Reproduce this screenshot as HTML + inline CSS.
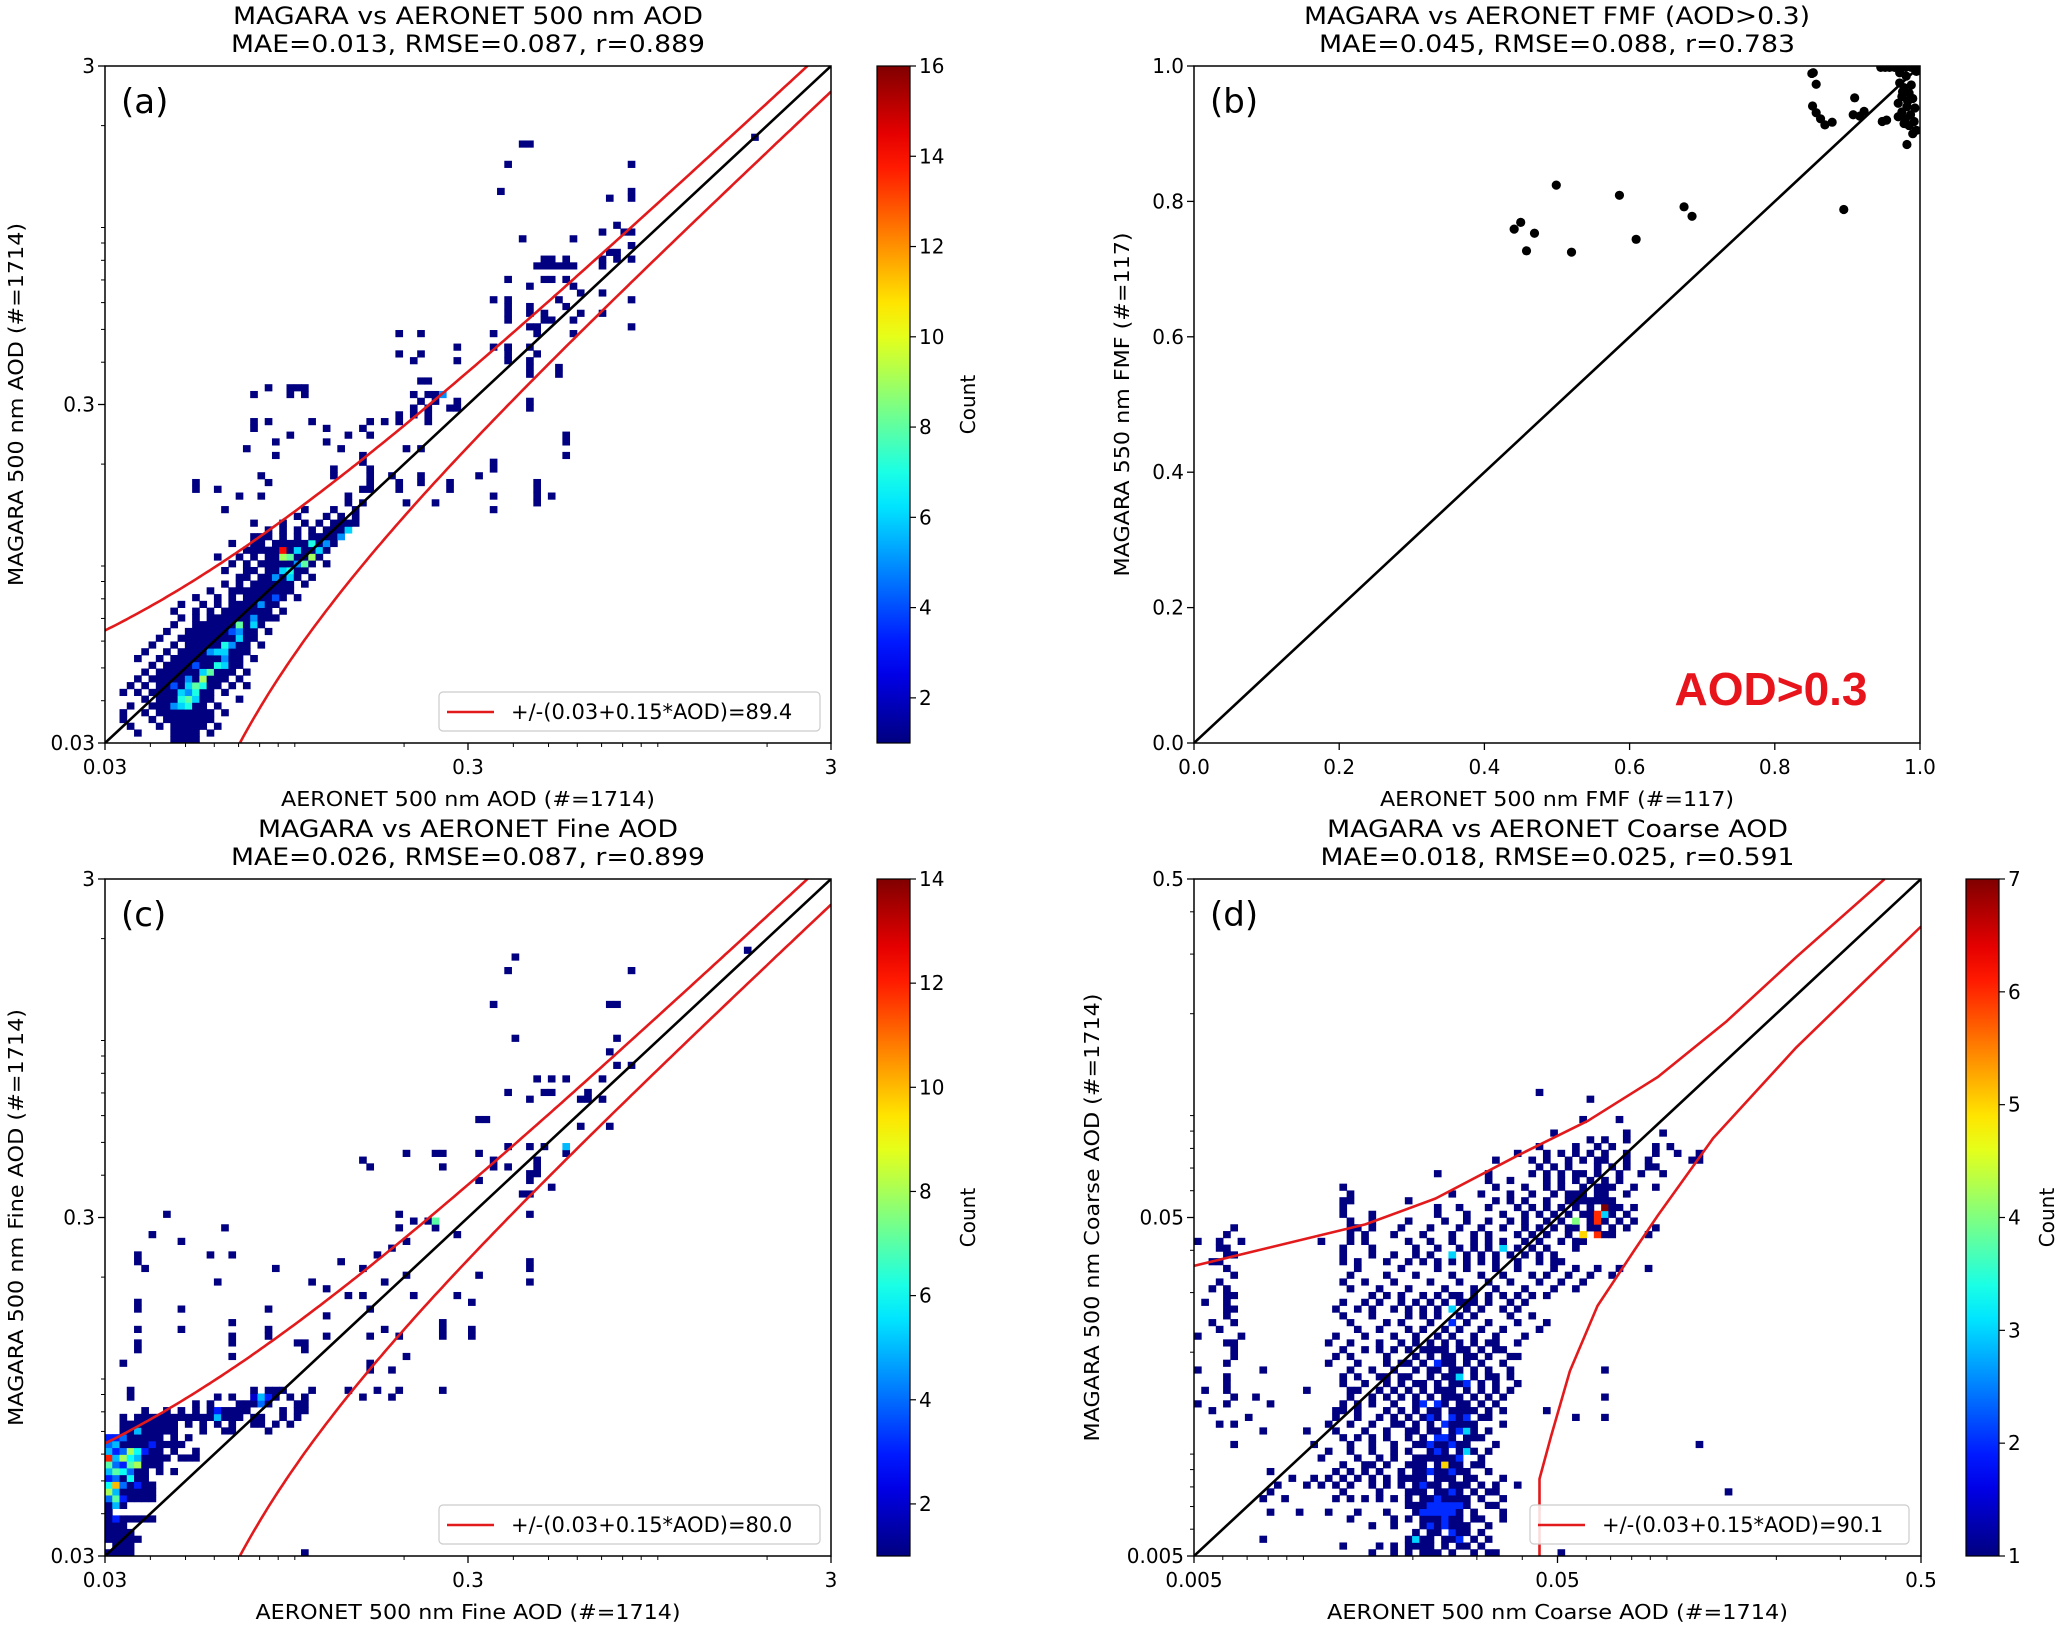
<!DOCTYPE html>
<html><head><meta charset="utf-8"><style>
html,body{margin:0;padding:0;background:#fff;width:2067px;height:1627px;overflow:hidden;}
svg{display:block;}
svg text{font-family:"DejaVu Sans","Liberation Sans",sans-serif;fill:#000;}
</style></head><body>
<svg id="fig" xmlns="http://www.w3.org/2000/svg" width="2067" height="1627" viewBox="0 0 2067 1627"></svg>
<script>
// ---------- DATA ----------
// Heatmap rows: index = y bin (0..99), tokens "xbin" or "xbin:count"
const rowsA = [
"9 10 11 12","4 9 10 11 12 14","3 7 9 10 11 12 13 15","2 6 8 9 10 11 12 13 14","2 5 7 8 9 10 11 12 13 14 16",
"3 6 7 8 9:5 10:6 11:7 12 13 15","5 7 8 9 10:7 11:8 12:6 13 14 18","2 4 6 7 8 9 10:6 11:5 12:7 13 14 16","3 5 7 8 9:4 10 11:6 12:8 13:7 14 15 17 19","4 6 7 8 9 10 11:5 12 13:9 14 15 16 18",
"5 7 8 9 10 11 12 13:6 14:8 15 16 17 19","6 8 9 10 11 12:4 13 14 15:7 16:6 17 18","4 7 9 10 11 12 13 14 15 16:5 17 18 20","5 8 10 11 12 13 14:5 15:6 16:6 17 18 19","6 9 11 12 13 14 15 16:7 17:5 18 19 21",
"7 10 11 12 13 14 15 16 17 18:6 19 20","8 11 12 13 14 15 16 17:4 18:5 19 20 22","9 12 13 14 15 16 17 18:8 19 20:6 21","10 12 14 15 16 17 18 19 20:5 21 22 23","9 12 14 16 17 18 19 20 21 22 24",
"10 13 15 17 18 19 20 21:5 22 23","12 15 17 19 20 21 22 23:4 24 26","14 17 18 19 20 21 22 23 24 25","16 18 20 21 22 23 24 25 27","18 19 21 22 23:5 24 25:6 26 28",
"16 19 20 22 23 24:6 25:7 26 27","17 19 21 22 23 24 25 26:5 27:8 28 30","15 18 20 22 23 24:9 25:8 26 27 28:9 29","19 20 21 22 23 24:14 25 26:6 27 28 29:6 30","17 20 21 23 24 25 26 27 28:7 29 30:5 31",
"20 21 22 24 26 28 29 30 31 32:5","22 24 26 28 30 31 32 33:6","20 24 27 29 31 32 33 34","26 30 32 34","16 27 31 34 53",
"41 45 59 33 35","18 21 33 53 59 61","12 15 35 36 40 47 59","12 22 36 40 43 47 59","21 31 36 39 43 51",
"31 53 36","53 35","35 63 23","19 32 43 41","63 30 23",
"25 33 36 63","20 30 35","36 40 20 22 28 38 44","40 42 44","44 58 42 48 47",
"48 58 43 45","20 25 27 42 44 45 46:5","22 25 26 27","43 44","58 62",
"58 62","42 48 55 58","40 43 55 59","53 55 58 48 55","",
"40 43 53 59 64","72 58 59","60 61 55 64","55 58 60 65 68","58 55 63",
"53 55 62 72","68 65","64 58","63 60 61 55","",
"59 60 61 62 63 64 68","60 61 63 68 70 72","69 70","72","57 64",
"72 71 68","70","",""," ",
"69 72","54 72","","","",
"55 72","","","57 58","89"
];
const rowsC = [
"0 1 2 3 27","1 2 3","0 1 2 3 4","0 1 2 3","0 1 2",
"0 1:3 2 3 4 5 6","0","0 1:5 2","0:4 1:7 2:3 3 4 5 6","0:8 1:5 2 3 4 5 6",
"0:6 1:10 2:4 3 4:3 5 6","0:3 1:4 2 3:6 4 5","0:5 1:7 2:6 3:4 4 5 7 9","0:7 1:4 2:3 3:7 4:8 5 6 7","0:12 1:5 2:8 3:6 4:5 5 6 7 8 10 11 12",
"0:5 1:3 2:4 3:8 4:6 5:3 6 7 9 12","0:4 1:5 2 3 4 5 6:3 7 8 9 10","0:3 1:3 2:4 3 4 5 6 7 9 11","2 3 4:5 5 6 7 8 9 13 16 17 22","2 3 4 5 6 7 8 9 11 13 15 17 20 21 23 25",
"2 4 5 6 7 8 9 10 11 12 13 14 15:5 16 17 18 20 21 24 26","5 8 10 12 14 15:3 16 17 18 19 24 26 27","12 14 18 19 20 21:4 22 26 27","3 15 17 20:2 21:5 22:3 23 25 27 35 39","3 20 22 23 24 28 33 37 40 46",
"","","36 39","2 36","17 41",
"4 27","4 26 27 17","17 22 30 40 36 46 50","4 10 22 38 50 46","17 46",
"30","4 10 22 36","4 50","33 35 42 48","30",
"15 38 58 28","51 41","5 23 35 58","4 32 58","14 17 37 4",
"39","10 41","6 48","16 45 40","44 45:7 42",
"58 40 8","","","57 58","61",
"51 58","58 59","53 55 59 46 36","35 53 59","63 45 41 46 51",
"55 58 60 63:5","","","69 65","52 51",
"","","68 65 58 66","66 60 61 55","",
"59 63 61 68","","70 72","","69",
"","70 56","","","",
"","69 53 70","","","",
"","55 72","","56 ","88"
];
const rowsD = [
"24 27 29 31 32 33 35 38 40 41 50","20 25 27 29 30 31 32 34 36 37 39","9 29 30:3 31 32 34 35 36:2 38 40","30 32 33 35:2 36 37 39","24 27 31 32:2 33 34:2 35 36 37 40",
"21 27 29 31 32 33 34:2 35 36 38 39 42","10 14 18 22 26 30 31:2 32:2 33:2 34:2 35:2 36 38 42","29 30 31 32:2 33:2 34:2 35:2 36:2 37 40 41","9 12 19 21 23 25 27 29 31 32 33:2 34 35 36 37 39 42","10 20 25 29 30 31 33 34 35:2 36 38 40 41 73",
"11 15 17 19 21 24 26 28 30 31:2 32 33 35 36 37 39 41 44","13 16 18 20 22 24 26 28 29 30 31 33 34 35 37 38 42","10 19 21 23 25 28 30 31 32:2 33 34 35:2 36 37 40","20 23 24 26 29 30 31 33 34:5 35 36 38 39","17 22 25 27 30 31 32 33 34 35 36:2 39",
"18 21 24 27 29 32 33:2 34 36 37:3 38 40","5 16 21 24 27 30 31 32:2 33 34 35:2 36 37 41 69","20 22 24 26 29 31 33:2 34:2 35 37 38 39","9 15 19 23 26 29 30 32 33 35 36:2 37:3 38 40","3 5 18 21 24 27 28 30 32 34:2 35 36 37 38 42",
"7 19 22 25 27 29 31 32:2 33 35:2 36 37:2 39 40 52 56","2 19 20 22 26 28 30 32 33 35 36 37 38 40 42 48","0 4 10 20 22 24 27 30 31:2 33:2 34 36 37 39 41","5 8 21 24 26 28 30 32 34 35 36 38 40 42 56","1 4 15 21 22 25 27 29 31 33 34 35 37 39 41 43",
"4 20 23 26 28 30 31 33 35 36 37:2 39 41 44","4 20 22 25 26 28 29 32 34 35 36:3 38 40 41 43","0 9 21 24 27 30 32 33 35 36 38 40 43 56","4 18 22 26 28 29 31 33:2 34 35 37 39 42","5 19 21 26 30 32 34 35 37 38 40 43 44",
"5 20 23 25 27 29 31 32 33 34 36 37 39 41 42","4 5 18 21 25 28 30 32 34 36 38 40 41 44","0 6 19 23 27 30 33 35 38 41 45","3 22 25 29 31 34 36 39 42 47","2 5 21 26 28 32 35:2 37 40 44 48",
"4 20 24 29 31 33 36 38 43 46","4 5 19 22 24 27 29 31 33 35:3 37 39 42 44","1 4 20 23 25 28 30 32 34 36 37 38 40 43 45","4 5 24 26 28 31 33 35 36 38 40 42 44 46 48","2 4 21 25 29 34 38 41 45 49 52",
"3 20 23 27 32 36 40 43 47 50 53","5 21 26 30 35 39 42 46 48 51 54 57","4 22 28 33 37 41 44 49 52 55 58 62",
"2 3 20 22 26 29 31 33 35 37 39 41 44 47 49 50","4 5 20 24 27 30 32 35:3 37 39 41 43 45 47 49","3 4 20 24 30 33 36 38 40 42:3 44 46 48 52","0 3 6 17 21 23 29 32 35 38 40 42 45 47 50 52 53","4 21 23 27 31 35 38 40 44 46 48 51 53:5 55:6 56 57 62",
"5 21 22 24 28 32 36 39 42 45 47 49 51 52 54 55 57 59 63","21 24 29 34 37 40 43 45 48 50 52:4 54 55:6 56 58 60","20 24 33 37 42 45 47 49 51 53 54 55:6 56:3 57 59","20 33 36 40 44 46 48 50 52 54 56:7 57 58 60","20 21 29 41 43 45 48 51 52 53 54 55 56 57",
"21 35 39 43 46 49 51 52 53 55 56 59","20 41 45 48 50 53 55 56 57 60 63","40 43 48 50 52 54 56 58","33 40 46 48 50 52 53 55 58 61 64","47 49 51 55 57 59 62 63",
"41 46 48 51 53 55 56 59 62 68 69","44 48 50 52 54 56 59 63 66 69","47 52 55 57 63 65","54 56 59","49 59 64",
"","53 58","","","54","47"
];
// Panel (b) FMF scatter
const fmfX = [0.441,0.450,0.458,0.469,0.499,0.520,0.586,0.609,0.675,0.686,0.895,0.851,0.853,0.857,0.852,0.857,0.863,0.869,0.879,0.910,0.908,0.923,0.917,0.948,0.954,
0.946,0.952,0.958,0.965,0.972,0.980,0.988,0.993,
0.972,0.978,0.985,0.975,0.990,0.970,0.982,0.993,0.975,0.987,0.980,0.992,0.985,0.995,0.990,0.978,0.970,0.983,0.976,0.988,0.981,0.972,0.982,0.995];
const fmfY = [0.759,0.769,0.727,0.753,0.824,0.725,0.809,0.744,0.792,0.778,0.788,0.989,0.990,0.973,0.941,0.931,0.922,0.913,0.917,0.953,0.928,0.933,0.926,0.918,0.920,
0.998,0.998,0.998,0.998,0.998,0.998,0.998,0.998,
0.975,0.968,0.960,0.955,0.952,0.945,0.940,0.938,0.932,0.928,0.922,0.918,0.912,0.905,0.900,0.915,0.925,0.948,0.962,0.972,0.985,0.990,0.884,0.992];
// Panel (d) envelope curves
const envUpX = [0.005,0.0148,0.0231,0.039,0.0607,0.0944,0.146,0.227,0.397];
const envUpY = [0.0360,0.0477,0.0569,0.0764,0.0966,0.130,0.190,0.294,0.5];
const envLoX = [0.0446,0.0446,0.048,0.0541,0.0644,0.0815,0.0944,0.134,0.227,0.5];
const envLoY = [0.005,0.00845,0.0113,0.0176,0.0274,0.0401,0.0507,0.0857,0.159,0.362];
const cbTicksA = [2,4,6,8,10,12,14,16];
const cbTicksC = [2,4,6,8,10,12,14];
const cbTicksD = [1,2,3,4,5,6,7];
const fmfTicks = [0.0,0.2,0.4,0.6,0.8,1.0];

// ---------- DRAW ----------
const NS="http://www.w3.org/2000/svg";
const svg=document.getElementById('fig');
function el(tag,attrs,parent){const e=document.createElementNS(NS,tag);for(const k in attrs)e.setAttribute(k,attrs[k]);(parent||svg).appendChild(e);return e;}
function txt(s,attrs,parent){const e=el('text',attrs,parent);e.textContent=s;return e;}
function jet(t){t=Math.max(0,Math.min(1,t));const c=v=>Math.round(255*Math.max(0,Math.min(1,v)));
return `rgb(${c(1.5-Math.abs(4*t-3))},${c(1.5-Math.abs(4*t-2))},${c(1.5-Math.abs(4*t-1))})`;}
const defs=el('defs',{});
const grad=el('linearGradient',{id:'jetg',x1:0,y1:1,x2:0,y2:0},defs);
for(let i=0;i<=20;i++){el('stop',{offset:i/20,'stop-color':jet(i/20)},grad);}

function logScale(lo,hi,p0,p1){return v=>p0+(p1-p0)*Math.log(v/lo)/Math.log(hi/lo);}

function panel(cfg){
  const g=el('g',{});
  
  
  const {L,T,W,H}=cfg;
  const xs=cfg.log?logScale(cfg.lo,cfg.hi,L,L+W):(v=>L+W*(v-cfg.lo)/(cfg.hi-cfg.lo));
  const ys=cfg.log?logScale(cfg.lo,cfg.hi,T+H,T):(v=>T+H-H*(v-cfg.lo)/(cfg.hi-cfg.lo));
  const t1=txt(cfg.title1,{x:L+W/2,y:T-42,'text-anchor':'middle','font-size':24,textLength:cfg.t1w,lengthAdjust:'spacingAndGlyphs'},g);
  
  const t2=txt(cfg.title2,{x:L+W/2,y:T-14,'text-anchor':'middle','font-size':24,textLength:cfg.t2w,lengthAdjust:'spacingAndGlyphs'},g);
  
  const cp=el('clipPath',{id:'clip'+cfg.id},defs);el('rect',{x:L,y:T,width:W,height:H},cp);
  const plot=el('g',{'clip-path':`url(#clip${cfg.id})`},g);
  
  if(cfg.rows){
    const r=cfg.hi/cfg.lo, bv=i=>cfg.lo*Math.pow(r,i/100);
    cfg.rows.forEach((row,yi)=>{
      row.trim().split(/\s+/).filter(s=>s).forEach(tok=>{
        const [xs_,cs]=tok.split(':');const xi=+xs_;const cnt=cs?+cs:1;
        const x0=xs(bv(xi)),x1=xs(bv(xi+1)),y0=ys(bv(yi+1)),y1=ys(bv(yi));
        const c=el('rect',{x:x0,y:y0,width:x1-x0+0.4,height:y1-y0+0.4,fill:jet((cnt-1)/(cfg.vmax-1))},plot);
        
        
      });
    });
  }
  if(cfg.points){
    cfg.points[0].forEach((vx,i)=>{
      const d=el('circle',{cx:xs(vx),cy:ys(cfg.points[1][i]),r:4.6,fill:'#000'},plot);
      
      
    });
  }
  const one=el('line',{x1:xs(cfg.lo),y1:ys(cfg.lo),x2:xs(cfg.hi),y2:ys(cfg.hi),stroke:'#000','stroke-width':2.6},plot);
  
  let envs=[];
  if(cfg.env==='formula'){
    const up=[],lo=[];
    for(let i=0;i<=200;i++){const x=cfg.lo*Math.pow(cfg.hi/cfg.lo,i/200);
      up.push([x,Math.min(cfg.hi*1.2,1.15*x+0.03)]);const l=0.85*x-0.03;if(l>0)lo.push([x,l]);}
    envs=[up,lo];
  } else if(cfg.env==='data'){
    envs=[envUpX.map((x,i)=>[x,envUpY[i]]),envLoX.map((x,i)=>[x,envLoY[i]])];
  }
  envs.forEach((pts,k)=>{
    const p=el('polyline',{points:pts.map(q=>xs(q[0]).toFixed(1)+','+ys(q[1]).toFixed(1)).join(' '),fill:'none',stroke:'#e31a1c','stroke-width':2.6,'stroke-linejoin':'round'},plot);
    
    
  });
  const fr=el('rect',{x:L,y:T,width:W,height:H,fill:'none',stroke:'#000','stroke-width':1.5},g);
  
  const tg=el('g',{},g);
  
  if(cfg.log){
    for(let e=-4;e<=1;e++)for(let n=1;n<=9;n++){const v=n*Math.pow(10,e);
      if(v<cfg.lo*0.999||v>cfg.hi*1.001)continue;
      el('line',{x1:xs(v),y1:T+H,x2:xs(v),y2:T+H+4,stroke:'#000','stroke-width':1},tg);
      el('line',{x1:L,y1:ys(v),x2:L-4,y2:ys(v),stroke:'#000','stroke-width':1},tg);}
  }
  cfg.major.forEach((v,i)=>{
    el('line',{x1:xs(v),y1:T+H,x2:xs(v),y2:T+H+7,stroke:'#000','stroke-width':1.3},tg);
    el('line',{x1:L,y1:ys(v),x2:L-7,y2:ys(v),stroke:'#000','stroke-width':1.3},tg);
    const a=txt(cfg.majorLab[i],{x:xs(v),y:T+H+31,'text-anchor':'middle','font-size':20},tg);
    
    const b=txt(cfg.majorLab[i],{x:L-10,y:ys(v)+7,'text-anchor':'end','font-size':20},tg);
    
  });
  const xl=txt(cfg.xlab,{x:L+W/2,y:T+H+63,'text-anchor':'middle','font-size':20,textLength:cfg.xw,lengthAdjust:'spacingAndGlyphs'},g);
  
  const yx=L-cfg.yoff, yc=T+H/2;
  const yl=txt(cfg.ylab,{x:yx,y:yc,transform:`rotate(-90 ${yx} ${yc})`,'text-anchor':'middle','dominant-baseline':'central','font-size':20,textLength:cfg.yw,lengthAdjust:'spacingAndGlyphs'},g);
  
  const pl=txt(cfg.letter,{x:L+16,y:T+47,'font-size':34},g);
  
  if(cfg.legend){
    const lg=el('g',{},g);
    
    const [lx,lw]=cfg.legendX;
    el('rect',{x:lx,y:T+H-51,width:lw,height:39,rx:4,fill:'rgba(255,255,255,0.85)',stroke:'#ccc','stroke-width':1.2},lg);
    el('line',{x1:lx+8,y1:T+H-31,x2:lx+55,y2:T+H-31,stroke:'#e31a1c','stroke-width':2.6},lg);
    const le=txt(cfg.legend,{x:lx+72,y:T+H-24,'font-size':21},lg);
    
  }
  if(cfg.cbX){
    const cb=el('g',{},g);
    
    el('rect',{x:cfg.cbX,y:T,width:33,height:H,fill:'url(#jetg)',stroke:'#000','stroke-width':1.2},cb);
    cfg.cbTicks.forEach(v=>{const y=T+H-H*(v-1)/(cfg.vmax-1);
      el('line',{x1:cfg.cbX+33,y1:y,x2:cfg.cbX+39,y2:y,stroke:'#000','stroke-width':1.2},cb);
      const t=txt(String(v),{x:cfg.cbX+42,y:y+7,'font-size':20},cb);
      });
    const cx=cfg.cbX+cfg.cbLabOff;
    const ct=txt('Count',{x:cx,y:yc,transform:`rotate(-90 ${cx} ${yc})`,'text-anchor':'middle','dominant-baseline':'central','font-size':20},cb);
    
  }
  return g;
}

panel({id:'a',name:'panel-a-aod',L:105,T:66,W:726,H:677,log:true,lo:0.03,hi:3,rows:rowsA,vmax:16,env:'formula',
 title1:'MAGARA vs AERONET 500 nm AOD',t1w:470,title2:'MAE=0.013, RMSE=0.087, r=0.889',t2w:474,
 major:[0.03,0.3,3],majorLab:['0.03','0.3','3'],xlab:'AERONET 500 nm AOD (#=1714)',xw:374,
 ylab:'MAGARA 500 nm AOD (#=1714)',yw:363,yoff:89,letter:'(a)',legend:'+/-(0.03+0.15*AOD)=89.4',legendX:[439,381],
 cbX:877,cbTicks:cbTicksA,cbLabOff:91});
panel({id:'b',name:'panel-b-fmf',L:1194,T:66,W:726,H:677,log:false,lo:0,hi:1,points:[fmfX,fmfY],
 title1:'MAGARA vs AERONET FMF (AOD>0.3)',t1w:506,title2:'MAE=0.045, RMSE=0.088, r=0.783',t2w:476,
 major:fmfTicks,majorLab:fmfTicks.map(v=>v.toFixed(1)),xlab:'AERONET 500 nm FMF (#=117)',xw:354,
 ylab:'MAGARA 550 nm FMF (#=117)',yw:344,yoff:72,letter:'(b)'});
const aod=txt('AOD>0.3',{x:1771,y:705,'text-anchor':'middle','font-size':46,'font-weight':'bold',style:'fill:#e8141c;font-family:"Liberation Sans",sans-serif'});

panel({id:'c',name:'panel-c-fine',L:105,T:879,W:726,H:677,log:true,lo:0.03,hi:3,rows:rowsC,vmax:14,env:'formula',
 title1:'MAGARA vs AERONET Fine AOD',t1w:420,title2:'MAE=0.026, RMSE=0.087, r=0.899',t2w:474,
 major:[0.03,0.3,3],majorLab:['0.03','0.3','3'],xlab:'AERONET 500 nm Fine AOD (#=1714)',xw:425,
 ylab:'MAGARA 500 nm Fine AOD (#=1714)',yw:417,yoff:89,letter:'(c)',legend:'+/-(0.03+0.15*AOD)=80.0',legendX:[439,381],
 cbX:877,cbTicks:cbTicksC,cbLabOff:91});
panel({id:'d',name:'panel-d-coarse',L:1194,T:879,W:727,H:677,log:true,lo:0.005,hi:0.5,rows:rowsD,vmax:7,env:'data',
 title1:'MAGARA vs AERONET Coarse AOD',t1w:461,title2:'MAE=0.018, RMSE=0.025, r=0.591',t2w:474,
 major:[0.005,0.05,0.5],majorLab:['0.005','0.05','0.5'],xlab:'AERONET 500 nm Coarse AOD (#=1714)',xw:461,
 ylab:'MAGARA 500 nm Coarse AOD (#=1714)',yw:448,yoff:102,letter:'(d)',legend:'+/-(0.03+0.15*AOD)=90.1',legendX:[1530,379],
 cbX:1966,cbTicks:cbTicksD,cbLabOff:81});
</script>
</body></html>
